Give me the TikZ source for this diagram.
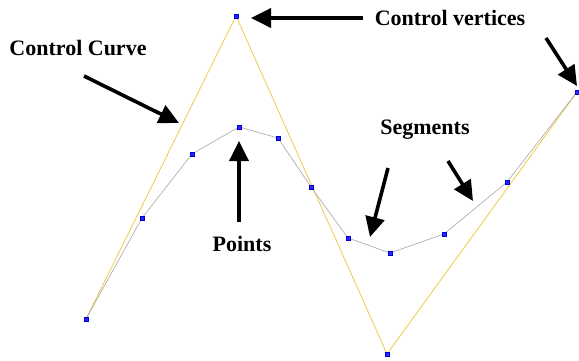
\documentclass[tikz,border=0pt]{standalone}
\usepackage{fontspec}
\setmainfont{Liberation Serif}
\usetikzlibrary{arrows.meta}

\begin{document}
\begin{tikzpicture}[x=1pt, y=-1pt,
  vtx/.style={draw=blue!80!black, fill=blue!85, inner sep=0pt, minimum size=4.5pt},
  label/.style={font=\bfseries\fontsize{22}{26}\selectfont, inner sep=0pt},
  ctrl/.style={draw={rgb,255:red,238;green,202;blue,70}, line width=0.8pt},
  seg/.style={draw=gray!70, line width=0.6pt},
  bigarr/.style={-{Triangle[length=20pt,width=19pt]}, line width=3.6pt}
]
\useasboundingbox (0,0) rectangle (579,360);

% control polygon
\node[vtx] (c0) at (86,319) {};
\node[vtx] (c1) at (236,16) {};
\node[vtx] (c2) at (387,354) {};
\node[vtx] (c3) at (577,92) {};
\draw[ctrl] (c0.center) -- (c1.center) -- (c2.center) -- (c3.center);

% curve points
\node[vtx] (p1) at (142,218) {};
\node[vtx] (p2) at (192,154) {};
\node[vtx] (p3) at (239,127) {};
\node[vtx] (p4) at (278,138) {};
\node[vtx] (p5) at (311,187) {};
\node[vtx] (p6) at (348,238) {};
\node[vtx] (p7) at (390,253) {};
\node[vtx] (p8) at (444,234) {};
\node[vtx] (p9) at (507,182) {};
\draw[seg] (c0.center) -- (p1.center) -- (p2.center) -- (p3.center) -- (p4.center) -- (p5.center)
  -- (p6.center) -- (p7.center) -- (p8.center) -- (p9.center) -- (c3.center);
% redraw markers above lines
\foreach \n in {c0,c1,c2,c3,p1,p2,p3,p4,p5,p6,p7,p8,p9}
  \node[vtx] at (\n) {};

% labels
\node[label] (cvtx) at (450,18) {Control vertices};
\node[label] (ccurve) at (78,48) {Control Curve};
\node[label] (pts) at (242,244) {Points};
\node[label] (segs) at (425,130) {Segments};

% arrows
\coordinate (a1s) at (363,18);
\coordinate (a1e) at (251,18);
\coordinate (a2s) at (546,38);
\coordinate (a2e) at (577,86);
\coordinate (a3s) at (84,76);
\coordinate (a3e) at (179,123);
\coordinate (a4s) at (239,222);
\coordinate (a4e) at (239,141);
\coordinate (a5s) at (388,168);
\coordinate (a5e) at (370,237);
\coordinate (a6s) at (448,161);
\coordinate (a6e) at (473,201);
\draw[bigarr] (a1s) -- (a1e);
\draw[bigarr] (a2s) -- (a2e);
\draw[bigarr] (a3s) -- (a3e);
\draw[bigarr] (a4s) -- (a4e);
\draw[bigarr] (a5s) -- (a5e);
\draw[bigarr] (a6s) -- (a6e);

\end{tikzpicture}
\end{document}
